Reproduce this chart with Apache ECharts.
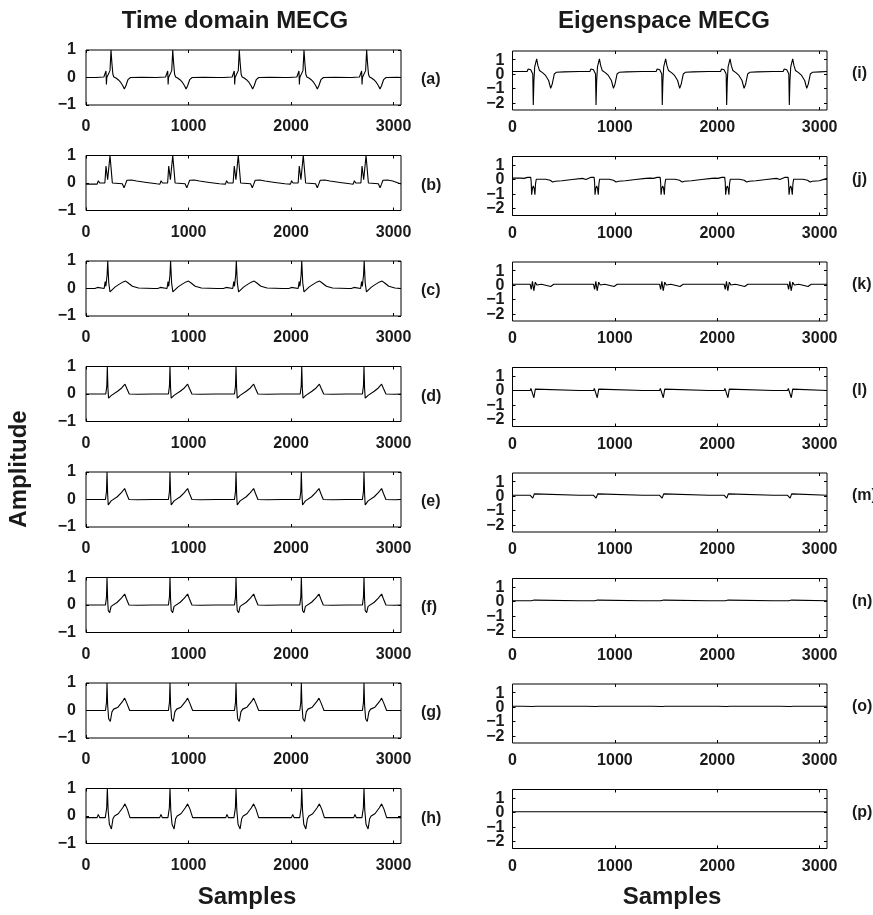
<!DOCTYPE html>
<html><head><meta charset="utf-8">
<script src="https://cdn.jsdelivr.net/npm/echarts@6/dist/echarts.min.js"></script>
<style>html,body{margin:0;padding:0;background:#fff}#c{width:873px;height:915px}</style>
</head><body><div id="c"></div>
<script>
// ---------- axis / label data ----------
const X_MAX = 3072;
const xTickValues = [0, 1000, 2000, 3000];
const leftYTicks = [-1, 0, 1];
const rightYTicks = [-2, -1, 0, 1];
const leftYRange = [-1, 1];
const rightYRange = [-2.5, 1.6];
const leftPanelLabels = ['(a)', '(b)', '(c)', '(d)', '(e)', '(f)', '(g)', '(h)'];
const rightPanelLabels = ['(i)', '(j)', '(k)', '(l)', '(m)', '(n)', '(o)', '(p)'];
const columnTitles = ['Time domain MECG', 'Eigenspace MECG'];
const yAxisName = 'Amplitude';
const xAxisName = 'Samples';

// ---------- beat positions (samples) ----------
const beatsA = [244, 846, 1495, 2126, 2737];
const beatsB = [234, 846, 1485, 2119, 2731];
const beatsC = [212, 825, 1466, 2104, 2713];
const beatsD = [208, 819, 1463, 2104, 2711];
const beatsE = [205, 819, 1463, 2100, 2711];
const beatsF = [205, 819, 1463, 2100, 2711];
const beatsG = [205, 819, 1463, 2100, 2711];
const beatsH = [208, 819, 1463, 2104, 2711];
const beatsI = [203, 816, 1463, 2092, 2704];
const beatsJ = [203, 822, 1467, 2098, 2717];
const beatsK = [203, 822, 1467, 2098, 2717];
const beatsL = [203, 822, 1467, 2098, 2717];
const beatsM = [203, 822, 1467, 2098, 2717];
const beatsN = [203, 822, 1467, 2098, 2717];
const beatsO = [203, 822, 1467, 2098, 2717];
const beatsP = [203, 822, 1467, 2098, 2717];

// ---------- one beat per panel: [offset from beat, amplitude] ----------
const shapeA = [[-150,0],[-70,0.02],[-53,0.02],[-49,0.24],[-45,-0.25],[-41,0.0],[-25,0.03],[-10,0.25],[0,1.0],[8,0.55],[18,0.12],[28,0.02],[38,0.06],[48,-0.02],[70,-0.08],[95,-0.18],[115,-0.3],[130,-0.42],[145,-0.3],[165,-0.08],[190,0.0],[300,0.01],[440,0.0]];
const shapeB = [[-125,-0.04],[-114,0.08],[-100,0.0],[-50,0.0],[-39,0.62],[-23,0.12],[0,1.0],[23,0.0],[120,-0.03],[137,-0.17],[150,-0.05],[165,0.1],[179,0.15],[210,0.11],[260,0.07],[358,0.02],[455,-0.03],[470,-0.04]];
const shapeC = [[-125,0.0],[-100,0.04],[-85,0.0],[-35,0.0],[-25,0.25],[-18,0.08],[-6,0.5],[0,1.0],[10,0.2],[22,-0.12],[35,-0.05],[70,0.05],[110,0.15],[150,0.24],[175,0.27],[200,0.2],[240,0.08],[300,0.02],[450,0.0]];
const shapeD = [[-125,0.0],[-100,0.0],[-88,0.06],[-75,0.0],[-15,0.0],[-5,0.3],[0,1.0],[6,0.2],[12,-0.15],[26,-0.22],[40,-0.05],[58,0.0],[100,0.1],[140,0.22],[172,0.36],[190,0.2],[214,0.0],[300,-0.01],[450,0.0]];
const shapeE = [[-125,0.0],[-100,0.0],[-88,0.05],[-75,0.0],[-15,0.0],[-5,0.3],[0,1.0],[6,0.2],[12,-0.2],[26,-0.25],[40,-0.05],[58,0.0],[100,0.1],[140,0.25],[172,0.4],[190,0.22],[214,0.0],[300,-0.01],[450,0.0]];
const shapeF = [[-125,0.0],[-100,0.0],[-88,0.05],[-75,0.0],[-15,0.0],[-5,0.3],[0,1.0],[6,0.2],[12,-0.2],[26,-0.28],[40,-0.05],[58,0.0],[100,0.1],[140,0.25],[172,0.4],[190,0.22],[214,0.0],[300,-0.01],[450,0.0]];
const shapeG = [[-125,0.0],[-100,0.0],[-88,0.06],[-75,0.0],[-15,0.0],[-5,0.3],[0,1.0],[6,0.2],[16,-0.3],[32,-0.4],[48,-0.05],[65,0.05],[107,0.12],[150,0.32],[172,0.45],[195,0.25],[221,0.0],[450,0.0]];
const shapeH = [[-125,-0.06],[-100,-0.06],[-88,0.06],[-75,-0.06],[-20,-0.06],[-6,0.3],[0,1.0],[8,0.2],[20,-0.3],[40,-0.47],[55,-0.1],[70,0.0],[107,0.08],[150,0.3],[172,0.44],[195,0.25],[221,-0.06],[450,-0.06]];
const shapeI = [[-125,0.18],[-60,0.18],[-50,0.35],[-25,0.3],[-12,0.25],[-5,0.0],[0,-2.15],[6,-0.5],[14,0.5],[33,1.05],[45,0.6],[60,0.25],[90,0.1],[120,-0.1],[150,-0.45],[170,-1.0],[185,-0.7],[205,0.0],[225,0.12],[300,0.15],[450,0.18]];
const shapeJ = [[-120,0.1],[-104,0.0],[-90,0.08],[-55,0.15],[-25,0.15],[-20,-0.2],[-16,-1.05],[-8,-0.6],[0,-0.45],[8,-0.6],[16,-1.05],[22,-0.3],[29,0.02],[42,0.05],[120,0.02],[165,-0.05],[189,-0.17],[215,-0.12],[280,-0.08],[380,0.0],[480,0.08]];
const shapeK = [[-100,0.05],[-30,0.05],[-20,-0.3],[-8,0.25],[5,-0.4],[20,0.2],[35,0.0],[80,0.05],[170,-0.1],[200,0.05],[450,0.05]];
const shapeL = [[-100,0.0],[-30,0.0],[-23,0.15],[-8,0.1],[6,-0.5],[20,0.1],[35,0.0],[450,0.0]];
const shapeM = [[-100,0.05],[-30,0.05],[-5,-0.15],[10,0.15],[25,0.05],[450,0.05]];
const shapeN = [[-100,0.05],[-20,0.05],[-5,-0.05],[10,0.1],[25,0.05],[450,0.05]];
const shapeO = [[-100,0.05],[-5,0.04],[10,0.07],[25,0.05],[450,0.05]];
const shapeP = [[-100,0.05],[450,0.05]];

const leftPanels = [[beatsA, shapeA], [beatsB, shapeB], [beatsC, shapeC], [beatsD, shapeD], [beatsE, shapeE], [beatsF, shapeF], [beatsG, shapeG], [beatsH, shapeH]];
const rightPanels = [[beatsI, shapeI], [beatsJ, shapeJ], [beatsK, shapeK], [beatsL, shapeL], [beatsM, shapeM], [beatsN, shapeN], [beatsO, shapeO], [beatsP, shapeP]];

function buildSeries(beats, shape) {
  const pts = [[0, shape[0][1]]];
  beats.forEach(b => shape.forEach(([dx, y]) => {
    const x = b + dx;
    if (x > 0 && x < X_MAX) pts.push([x, y]);
  }));
  pts.push([X_MAX, shape[shape.length - 1][1]]);
  return pts;
}

// ---------- layout ----------
const FONT = '"Liberation Sans", Arial, Helvetica, sans-serif';
const TXT = '#1a1a1a';
const ROW_STEP = 105.5;
const L = { left: 86, width: 315, top0: 50, height: 55, yLabMargin: 10, xLabMargin: 14, axisYLabels: true };
const R = { left: 512.5, width: 314.5, top0: 51, height: 59, yLabMargin: 8, xLabMargin: 10, axisYLabels: false };
const minusFmt = v => (v < 0 ? '\u2212' + Math.abs(v) : String(v));
const plainFmt = v => String(v);

const grids = [], xAxes = [], yAxes = [], series = [], graphics = [];
function addPanel(cfg, row, beats, shape, yRange, yTicks, label, labelX, labelY) {
  const g = grids.length;
  const top = cfg.top0 + ROW_STEP * row;
  grids.push({ left: cfg.left, top: top, width: cfg.width, height: cfg.height, show: true, borderColor: '#000', borderWidth: 1, backgroundColor: 'transparent', containLabel: false });
  const tick = (vals) => ({ show: true, inside: true, length: 3, customValues: vals, lineStyle: { color: '#000', width: 1 } });
  const noLine = { show: false, onZero: false };
  const lab = (vals, fmt, margin) => ({ customValues: vals, formatter: fmt, hideOverlap: false, showMinLabel: true, showMaxLabel: true,
    fontSize: 16, fontWeight: 'bold', fontFamily: FONT, color: TXT, margin: margin });
  xAxes.push({ gridIndex: g, type: 'value', min: 0, max: X_MAX, position: 'bottom', axisLine: noLine, splitLine: { show: false }, axisTick: tick(xTickValues),
    axisLabel: lab(xTickValues, plainFmt, cfg.xLabMargin) });
  xAxes.push({ gridIndex: g, type: 'value', min: 0, max: X_MAX, position: 'top', axisLine: noLine, splitLine: { show: false }, axisTick: tick(xTickValues), axisLabel: { show: false } });
  yAxes.push({ gridIndex: g, type: 'value', min: yRange[0], max: yRange[1], position: 'left', axisLine: noLine, splitLine: { show: false }, axisTick: tick(yTicks),
    axisLabel: cfg.axisYLabels ? lab(yTicks, minusFmt, cfg.yLabMargin) : { show: false } });
  yAxes.push({ gridIndex: g, type: 'value', min: yRange[0], max: yRange[1], position: 'right', axisLine: noLine, splitLine: { show: false }, axisTick: tick(yTicks), axisLabel: { show: false } });
  series.push({ type: 'line', xAxisIndex: 2 * g, yAxisIndex: 2 * g, data: buildSeries(beats, shape), symbol: 'none', showSymbol: false, clip: true,
    lineStyle: { color: '#000', width: 1.1 }, animation: false, silent: true });
  graphics.push({ type: 'text', x: labelX, y: top + labelY, style: { text: label, font: 'bold 16px ' + FONT, fill: TXT, textAlign: 'left', textVerticalAlign: 'middle' } });
}
leftPanels.forEach(([b, s], i) => addPanel(L, i, b, s, leftYRange, leftYTicks, leftPanelLabels[i], 421, 30));
rightPanels.forEach(([b, s], i) => addPanel(R, i, b, s, rightYRange, rightYTicks, rightPanelLabels[i], 852, 23));

const bigFont = 'bold 24px ' + FONT;
graphics.push({ type: 'text', x: 235, y: 21, style: { text: columnTitles[0], font: bigFont, fill: TXT, textAlign: 'center', textVerticalAlign: 'middle' } });
graphics.push({ type: 'text', x: 664, y: 21, style: { text: columnTitles[1], font: bigFont, fill: TXT, textAlign: 'center', textVerticalAlign: 'middle' } });
graphics.push({ type: 'text', x: 247, y: 897, style: { text: xAxisName, font: bigFont, fill: TXT, textAlign: 'center', textVerticalAlign: 'middle' } });
graphics.push({ type: 'text', x: 672, y: 897, style: { text: xAxisName, font: bigFont, fill: TXT, textAlign: 'center', textVerticalAlign: 'middle' } });
graphics.push({ type: 'text', x: 19, y: 469, rotation: Math.PI / 2, style: { text: yAxisName, font: bigFont, fill: TXT, textAlign: 'center', textVerticalAlign: 'middle' } });

const chart = echarts.init(document.getElementById('c'), null, { renderer: 'canvas' });
chart.setOption({ animation: false, backgroundColor: '#fff', grid: grids, xAxis: xAxes, yAxis: yAxes, series: series, graphic: graphics });

// right-column tick labels are tightly packed; place them at the axis' own pixel positions
const rightTickLabels = [];
rightPanels.forEach((_, i) => {
  const g = leftPanels.length + i;
  rightYTicks.forEach(v => {
    const py = chart.convertToPixel({ yAxisIndex: 2 * g }, v);
    rightTickLabels.push({ type: 'text', x: R.left - R.yLabMargin, y: py + 0.5, style: { text: minusFmt(v), font: 'bold 16px ' + FONT, fill: TXT, textAlign: 'right', textVerticalAlign: 'middle' } });
  });
});
chart.setOption({ graphic: graphics.concat(rightTickLabels) });
</script></body></html>
